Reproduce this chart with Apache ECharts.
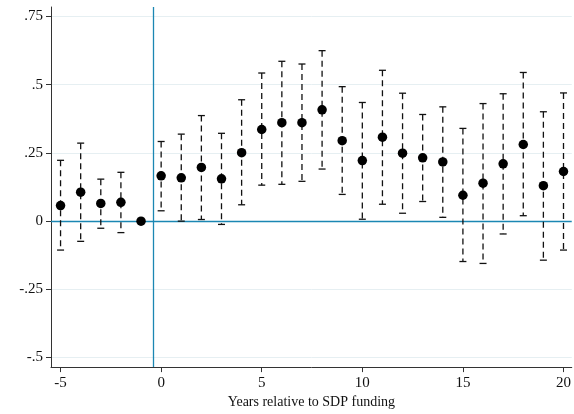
<!DOCTYPE html>
<html>
<head>
<meta charset="utf-8">
<script src="https://cdn.jsdelivr.net/npm/echarts@6/dist/echarts.min.js"></script>
<style>html,body{margin:0;padding:0;background:#fff;}#c{width:574px;height:414px;}</style>
</head>
<body>
<div id="c"></div>
<script>
const years = [-5,-4,-3,-2,-1,0,1,2,3,4,5,6,7,8,9,10,11,12,13,14,15,16,17,18,19,20];
const estimate = [0.057,0.106,0.065,0.069,0,0.166,0.159,0.197,0.155,0.251,0.336,0.361,0.361,0.408,0.295,0.222,0.308,0.249,0.232,0.217,0.095,0.139,0.210,0.281,0.130,0.182];
const lower = [-0.106,-0.074,-0.026,-0.042,null,0.038,0.000,0.006,-0.012,0.060,0.132,0.135,0.146,0.191,0.098,0.007,0.062,0.029,0.072,0.014,-0.148,-0.155,-0.047,0.020,-0.143,-0.106];
const upper = [0.223,0.286,0.154,0.179,null,0.292,0.319,0.387,0.322,0.445,0.543,0.586,0.576,0.625,0.493,0.435,0.553,0.469,0.391,0.419,0.340,0.431,0.467,0.545,0.401,0.470];
const yTicks = [-0.5,-0.25,0,0.25,0.5,0.75];
const yTickLabels = ['-.5','-.25','0','.25','.5','.75'];
const xTicks = [-5,0,5,10,15,20];
const xTitle = 'Years relative to SDP funding';
const treatLine = -0.4;

const teal = '#1b87b3';
const font = 'Liberation Serif';
const chart = echarts.init(document.getElementById('c'));

const barData = [];
years.forEach((y,i)=>{ if(lower[i]!==null) barData.push([y, lower[i], upper[i]]); });

chart.setOption({
  animation:false,
  grid:{left:51,right:0,top:7,bottom:46,containLabel:false},
  xAxis:{
    type:'value', min:-5.475, max:20.41,
    name:xTitle, nameLocation:'middle', nameGap:25,
    nameTextStyle:{fontFamily:font,fontSize:14,color:'#111'},
    axisLine:{show:true,onZero:false,lineStyle:{color:'#333',width:1}},
    axisTick:{show:true,length:5,customValues:xTicks,lineStyle:{color:'#333'}},
    axisLabel:{customValues:xTicks,fontFamily:font,fontSize:15,color:'#111',margin:8},
    splitLine:{show:false}
  },
  yAxis:{
    type:'value', min:-0.535, max:0.785,
    axisLine:{show:true,onZero:false,lineStyle:{color:'#333',width:1}},
    axisTick:{show:true,length:5,customValues:yTicks,lineStyle:{color:'#333'}},
    axisLabel:{customValues:yTicks,fontFamily:font,fontSize:15,color:'#111',margin:8,
      formatter:function(v){const i=yTicks.findIndex(t=>Math.abs(t-v)<1e-9);return i>=0?yTickLabels[i]:'';}},
    splitLine:{show:false}
  },
  series:[
    {
      type:'line', data:[], silent:true, z:0,
      markLine:{silent:true,symbol:'none',label:{show:false},animation:false,z:0,
        lineStyle:{color:'#e6eff2',width:1,type:'solid'},
        data:yTicks.filter(t=>t!==0).map(t=>({yAxis:t}))}
    },
    {
      type:'line', data:[], silent:true, z:1,
      markLine:{silent:true,symbol:'none',label:{show:false},animation:false,z:1,
        lineStyle:{color:teal,width:1.3,type:'solid'},
        data:[{yAxis:0},{xAxis:treatLine}]}
    },
    {
      type:'custom', data:barData, silent:true, z:3,
      renderItem:function(params,api){
        const x=api.value(0), lo=api.value(1), hi=api.value(2);
        const pLo=api.coord([x,lo]), pHi=api.coord([x,hi]);
        const w=3.5;
        const st={stroke:'#111',lineWidth:1.3};
        return {type:'group',children:[
          {type:'line',shape:{x1:pHi[0],y1:pHi[1],x2:pLo[0],y2:pLo[1]},style:{stroke:'#111',lineWidth:1.3,lineDash:[6,4]}},
          {type:'line',shape:{x1:pHi[0]-w,y1:pHi[1],x2:pHi[0]+w,y2:pHi[1]},style:st},
          {type:'line',shape:{x1:pLo[0]-w,y1:pLo[1],x2:pLo[0]+w,y2:pLo[1]},style:st}
        ]};
      }
    },
    {
      type:'scatter', data:years.map((y,i)=>[y,estimate[i]]), symbol:'circle', symbolSize:9.5, z:10,
      itemStyle:{color:'#000',opacity:1}
    }
  ]
});
</script>
</body>
</html>
